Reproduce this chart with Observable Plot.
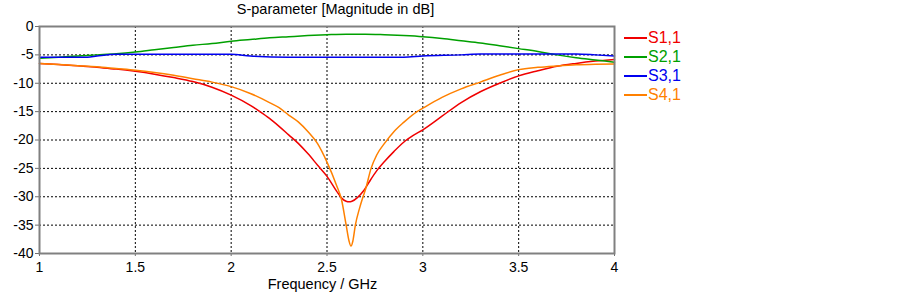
<!DOCTYPE html>
<html>
<head>
<meta charset="utf-8">
<script src="https://cdn.jsdelivr.net/npm/d3@7"></script>
<script src="https://cdn.jsdelivr.net/npm/@observablehq/plot@0.6"></script>
<style>
  html, body { margin: 0; padding: 0; background: #fff; }
  #wrap { position: relative; width: 903px; height: 292px; font-family: Arial, "Liberation Sans", sans-serif; }
  #title { position: absolute; left: 48px; width: 575px; top: 1px; text-align: center; font-size: 14.5px; line-height: 17px; color: #000; }
  #xlabel { position: absolute; left: 35px; width: 575px; top: 277px; text-align: center; font-size: 14.5px; line-height: 14px; color: #000; }
  #legend { position: absolute; left: 624px; top: 28px; font-size: 16px; }
  .item { display: flex; align-items: center; height: 19px; }
  .sw { width: 23px; height: 0; border-top: 2px solid; margin-right: 1px; }
</style>
</head>
<body>
<div id="wrap">
  <div id="chart"></div>
  <div id="title"></div>
  <div id="xlabel"></div>
  <div id="legend"></div>
</div>
<script>
const titleText = "S-parameter [Magnitude in dB]";
const xLabelText = "Frequency / GHz";
const seriesNames = ["S1,1", "S2,1", "S3,1", "S4,1"];
const seriesColors = ["#f00000", "#00a000", "#0000f0", "#ff8000"];
const xTicks = [1, 1.5, 2, 2.5, 3, 3.5, 4];
const yTicks = [0, -5, -10, -15, -20, -25, -30, -35, -40];

const s11Freq = [1.0,1.1,1.2,1.3,1.4,1.5,1.6,1.7,1.8,1.9,2.0,2.1,2.15,2.2,2.25,2.3,2.35,2.4,2.45,2.5,2.55,2.575,2.6,2.615,2.63,2.66,2.69,2.72,2.76,2.8,2.85,2.9,2.95,3.0,3.1,3.2,3.3,3.4,3.5,3.6,3.7,3.8,3.9,4.0];
const s11Values = [-6.5,-6.7,-6.9,-7.2,-7.5,-7.9,-8.4,-9.0,-9.7,-10.7,-12.1,-13.9,-15.0,-16.2,-17.6,-19.1,-20.6,-22.4,-24.4,-26.4,-29.0,-30.2,-30.8,-30.9,-30.8,-30.1,-29.0,-27.4,-25.4,-23.8,-22.0,-20.4,-19.2,-18.2,-15.8,-13.4,-11.5,-10.0,-8.7,-7.8,-7.0,-6.5,-6.1,-5.8];

const s21Freq = [1.0,1.1,1.2,1.3,1.4,1.5,1.6,1.7,1.8,1.9,2.0,2.1,2.2,2.3,2.4,2.5,2.6,2.7,2.8,2.9,3.0,3.1,3.2,3.3,3.4,3.5,3.6,3.7,3.8,3.9,4.0];
const s21Values = [-5.6,-5.4,-5.2,-5.0,-4.8,-4.5,-4.1,-3.7,-3.3,-3.0,-2.6,-2.3,-2.0,-1.8,-1.6,-1.45,-1.35,-1.35,-1.45,-1.6,-1.8,-2.1,-2.5,-2.9,-3.4,-3.9,-4.4,-5.0,-5.5,-5.9,-6.3];

const s31Freq = [1.0,1.25,1.3,1.4,2.0,2.1,2.3,2.9,3.0,3.2,3.3,3.8,3.9,4.0];
const s31Values = [-5.4,-5.4,-5.2,-4.9,-4.9,-5.2,-5.4,-5.4,-5.2,-5.0,-4.85,-4.85,-5.0,-5.2];

const s41Freq = [1.0,1.1,1.2,1.3,1.4,1.5,1.6,1.7,1.8,1.9,2.0,2.1,2.2,2.25,2.3,2.35,2.4,2.45,2.5,2.55,2.575,2.6,2.615,2.625,2.635,2.648,2.67,2.688,2.7,2.73,2.76,2.8,2.85,2.9,2.97,3.0,3.1,3.2,3.3,3.4,3.5,3.6,3.7,3.8,3.9,4.0];
const s41Values = [-6.5,-6.7,-6.9,-7.1,-7.4,-7.7,-8.1,-8.6,-9.2,-9.8,-10.6,-11.8,-13.4,-14.3,-15.6,-16.8,-18.5,-20.6,-23.9,-28.0,-30.4,-35.0,-37.8,-38.7,-37.8,-35.0,-32.0,-30.0,-28.8,-25.0,-22.6,-20.6,-18.5,-16.9,-15.0,-14.4,-12.5,-11.0,-9.8,-8.6,-7.6,-7.2,-6.95,-6.75,-6.65,-6.6];

const table = [];
[[s11Freq, s11Values], [s21Freq, s21Values], [s31Freq, s31Values], [s41Freq, s41Values]].forEach(([f, v], i) => {
  f.forEach((x, j) => table.push({series: seriesNames[i], f: x, db: v[j]}));
});

const chart = Plot.plot({
  width: 903,
  height: 292,
  marginLeft: 39,
  marginRight: 289,
  marginTop: 26,
  marginBottom: 39,
  style: {fontFamily: "Arial, 'Liberation Sans', sans-serif", fontSize: "14px", color: "#000", background: "#fff"},
  x: {domain: [1, 4], label: null},
  y: {domain: [-40, 0], label: null},
  color: {domain: seriesNames, range: seriesColors},
  marks: [
    Plot.gridX(xTicks.filter(d => d > 1 && d < 4), {stroke: "#000", strokeOpacity: 1, strokeDasharray: "2,2", strokeWidth: 1}),
    Plot.gridY(yTicks.filter(d => d > -40 && d < 0), {stroke: "#000", strokeOpacity: 1, strokeDasharray: "2,2", strokeWidth: 1}),
    Plot.axisX({ticks: xTicks, tickFormat: d => String(d), tickSize: 3, tickPadding: 6, stroke: "#707070", label: null}),
    Plot.axisY({ticks: yTicks, tickFormat: d => String(d), tickSize: 4, tickPadding: 2, stroke: "#707070", label: null}),
    Plot.line(table, {x: "f", y: "db", z: "series", stroke: "series", strokeWidth: 1.5, curve: "monotone-x"}),
    Plot.frame({stroke: "#808080", strokeWidth: 2})
  ]
});
document.getElementById("chart").appendChild(chart);
document.getElementById("title").textContent = titleText;
document.getElementById("xlabel").textContent = xLabelText;
const legend = document.getElementById("legend");
seriesNames.forEach((name, i) => {
  const item = document.createElement("div");
  item.className = "item";
  const sw = document.createElement("span");
  sw.className = "sw";
  sw.style.borderColor = seriesColors[i];
  const t = document.createElement("span");
  t.textContent = name;
  t.style.color = seriesColors[i];
  item.appendChild(sw);
  item.appendChild(t);
  legend.appendChild(item);
});
</script>
</body>
</html>
